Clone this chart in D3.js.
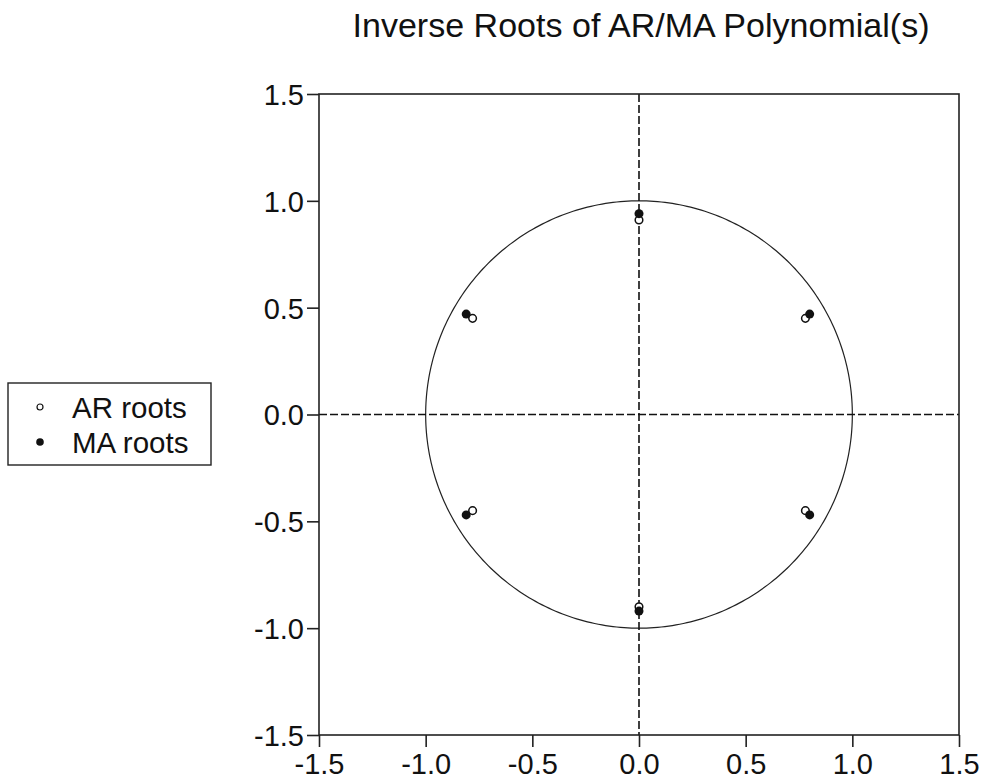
<!DOCTYPE html>
<html>
<head>
<meta charset="utf-8">
<script src="https://cdn.jsdelivr.net/npm/d3@7"></script>
<style>
  body { margin: 0; background: #fff; }
  svg text { font-family: "Liberation Sans", Arial, sans-serif; fill: #111; }
</style>
</head>
<body>
<div id="wrapper"></div>
<script>
// inverse roots
const arRe = [0.78, -0.78, 0.0, 0.0, 0.78, -0.78];
const arIm = [0.45, 0.45, 0.91, -0.90, -0.45, -0.45];
const maRe = [0.80, -0.81, 0.0, 0.0, 0.80, -0.81];
const maIm = [0.47, 0.47, 0.94, -0.92, -0.47, -0.47];
const tickValues = [-1.5, -1.0, -0.5, 0.0, 0.5, 1.0, 1.5];
const legendLabels = ["AR roots", "MA roots"];
const titleText = "Inverse Roots of AR/MA Polynomial(s)";

function drawRoots() {
  let dimensions = {
    width: 987,
    height: 780,
    margin: { top: 94, bottom: 45, left: 319, right: 28 },
  };
  dimensions.boundedWidth =
    dimensions.width - dimensions.margin.left - dimensions.margin.right;
  dimensions.boundedHeight =
    dimensions.height - dimensions.margin.top - dimensions.margin.bottom;

  const wrapper = d3
    .select("#wrapper")
    .append("svg")
    .attr("width", dimensions.width)
    .attr("height", dimensions.height);

  const bounds = wrapper
    .append("g")
    .attr("transform", `translate(${dimensions.margin.left},${dimensions.margin.top})`);

  const xScale = d3.scaleLinear().domain([-1.5, 1.5]).range([0, dimensions.boundedWidth]);
  const yScale = d3.scaleLinear().domain([-1.5, 1.5]).range([dimensions.boundedHeight, 0]);

  // unit circle
  const unit = d3.range(0, 361, 1).map((a) => [
    Math.cos((a * Math.PI) / 180),
    Math.sin((a * Math.PI) / 180),
  ]);
  bounds
    .append("path")
    .datum(unit)
    .attr("d", d3.line().x((d) => xScale(d[0])).y((d) => yScale(d[1])))
    .attr("fill", "none")
    .attr("stroke", "#222")
    .attr("stroke-width", 1.2);

  // zero lines
  bounds
    .append("line")
    .attr("x1", 0)
    .attr("x2", dimensions.boundedWidth)
    .attr("y1", yScale(0))
    .attr("y2", yScale(0))
    .attr("stroke", "#111")
    .attr("stroke-width", 1.6)
    .attr("stroke-dasharray", "8,3");
  bounds
    .append("line")
    .attr("x1", xScale(0))
    .attr("x2", xScale(0))
    .attr("y1", 0)
    .attr("y2", dimensions.boundedHeight)
    .attr("stroke", "#111")
    .attr("stroke-width", 1.6)
    .attr("stroke-dasharray", "8,3");

  // roots
  const arData = arRe.map((r, i) => ({ re: r, im: arIm[i] }));
  const maData = maRe.map((r, i) => ({ re: r, im: maIm[i] }));

  bounds
    .append("g")
    .selectAll("circle")
    .data(arData)
    .join("circle")
    .attr("cx", (d) => xScale(d.re))
    .attr("cy", (d) => yScale(d.im))
    .attr("r", 3.8)
    .attr("fill", "#fff")
    .attr("stroke", "#111")
    .attr("stroke-width", 1.5);

  bounds
    .append("g")
    .selectAll("circle")
    .data(maData)
    .join("circle")
    .attr("cx", (d) => xScale(d.re))
    .attr("cy", (d) => yScale(d.im))
    .attr("r", 4.5)
    .attr("fill", "#111");

  // frame
  bounds
    .append("rect")
    .attr("width", dimensions.boundedWidth)
    .attr("height", dimensions.boundedHeight)
    .attr("fill", "none")
    .attr("stroke", "#222")
    .attr("stroke-width", 1.6);

  // axes
  const xAxis = bounds
    .append("g")
    .attr("transform", `translate(0,${dimensions.boundedHeight})`)
    .call(d3.axisBottom(xScale).tickValues(tickValues).tickSizeInner(12).tickSizeOuter(0).tickPadding(6));
  const yAxis = bounds
    .append("g")
    .call(d3.axisLeft(yScale).tickValues(tickValues).tickSizeInner(12).tickSizeOuter(0).tickPadding(3));

  [xAxis, yAxis].forEach((ax) => {
    ax.select(".domain").remove();
    ax.selectAll(".tick line").attr("stroke", "#222").attr("stroke-width", 1.6);
    ax.selectAll(".tick text")
      .attr("font-size", 29)
      .attr("font-family", '"Liberation Sans", Arial, sans-serif')
      .attr("fill", "#111")
      .text((d) => d3.format(".1f")(d).replace("−", "-"));
  });
  yAxis.selectAll(".tick text").attr("dy", "0.36em");

  // title
  wrapper
    .append("text")
    .attr("x", 641)
    .attr("y", 37)
    .attr("text-anchor", "middle")
    .attr("font-size", 33.5)
    .attr("textLength", 577)
    .attr("lengthAdjust", "spacingAndGlyphs")
    .text(titleText);

  // legend
  const legend = wrapper.append("g").attr("transform", "translate(8,383)");
  legend
    .append("rect")
    .attr("width", 203)
    .attr("height", 82)
    .attr("fill", "#fff")
    .attr("stroke", "#222")
    .attr("stroke-width", 1.4);
  const rows = legend
    .selectAll(".row")
    .data(legendLabels)
    .join("g")
    .attr("class", "row")
    .attr("transform", (d, i) => `translate(0,${24 + i * 35})`);
  rows
    .append("circle")
    .attr("cx", 32)
    .attr("cy", 0)
    .attr("r", (d, i) => (i === 0 ? 3 : 3.8))
    .attr("fill", (d, i) => (i === 0 ? "#fff" : "#111"))
    .attr("stroke", "#111")
    .attr("stroke-width", (d, i) => (i === 0 ? 1.2 : 0));
  rows
    .append("text")
    .attr("x", 64)
    .attr("y", 0)
    .attr("dy", "0.36em")
    .attr("font-size", 29.5)
    .text((d) => d);
}

drawRoots();
</script>
</body>
</html>
